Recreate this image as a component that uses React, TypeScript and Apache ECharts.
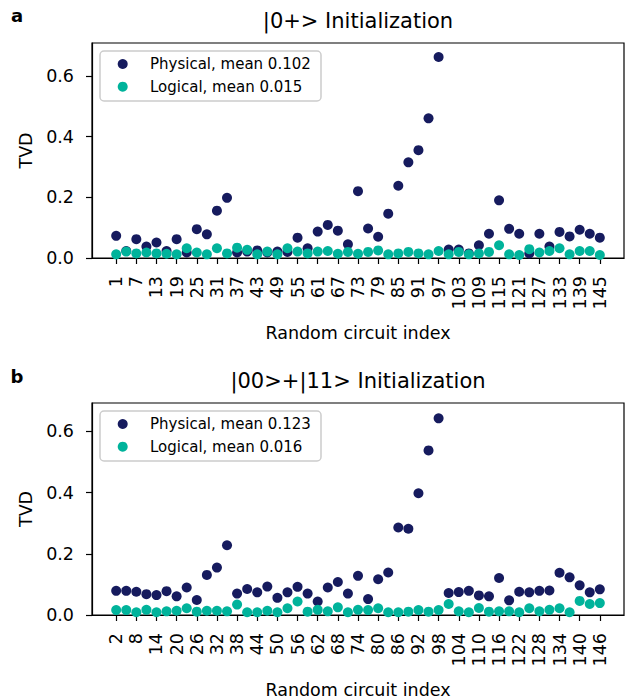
import React, { useEffect, useRef } from "react";
import * as echarts from "echarts";

const circuitsA = [1, 4, 7, 10, 13, 16, 19, 22, 25, 28, 31, 34, 37, 40, 43, 46, 49, 52, 55, 58, 61, 64, 67, 70, 73, 76, 79, 82, 85, 88, 91, 94, 97, 100, 103, 106, 109, 112, 115, 118, 121, 124, 127, 130, 133, 136, 139, 142, 145];
const physicalA = [0.073, 0.023, 0.062, 0.038, 0.051, 0.023, 0.062, 0.018, 0.095, 0.078, 0.156, 0.198, 0.018, 0.021, 0.025, 0.018, 0.021, 0.020, 0.067, 0.032, 0.087, 0.109, 0.090, 0.045, 0.220, 0.097, 0.070, 0.146, 0.238, 0.315, 0.355, 0.460, 0.662, 0.028, 0.028, 0.015, 0.042, 0.080, 0.190, 0.096, 0.080, 0.015, 0.080, 0.038, 0.086, 0.071, 0.093, 0.080, 0.067];
const logicalA = [0.012, 0.021, 0.015, 0.018, 0.015, 0.014, 0.012, 0.032, 0.018, 0.012, 0.032, 0.015, 0.034, 0.027, 0.012, 0.021, 0.012, 0.032, 0.021, 0.015, 0.021, 0.023, 0.014, 0.020, 0.014, 0.020, 0.025, 0.012, 0.015, 0.020, 0.015, 0.012, 0.023, 0.012, 0.020, 0.012, 0.015, 0.020, 0.042, 0.012, 0.010, 0.029, 0.018, 0.023, 0.032, 0.012, 0.023, 0.023, 0.010];
const ticksA = [1, 7, 13, 19, 25, 31, 37, 43, 49, 55, 61, 67, 73, 79, 85, 91, 97, 103, 109, 115, 121, 127, 133, 139, 145];

const circuitsB = [2, 5, 8, 11, 14, 17, 20, 23, 26, 29, 32, 35, 38, 41, 44, 47, 50, 53, 56, 59, 62, 65, 68, 71, 74, 77, 80, 83, 86, 89, 92, 95, 98, 101, 104, 107, 110, 113, 116, 119, 122, 125, 128, 131, 134, 137, 140, 143, 146];
const physicalB = [0.079, 0.079, 0.076, 0.068, 0.065, 0.078, 0.061, 0.090, 0.049, 0.131, 0.155, 0.228, 0.070, 0.085, 0.074, 0.093, 0.056, 0.074, 0.092, 0.070, 0.044, 0.090, 0.108, 0.070, 0.128, 0.052, 0.117, 0.139, 0.286, 0.282, 0.398, 0.538, 0.643, 0.072, 0.075, 0.079, 0.064, 0.061, 0.121, 0.048, 0.076, 0.074, 0.079, 0.080, 0.138, 0.123, 0.097, 0.074, 0.084];
const logicalB = [0.016, 0.016, 0.009, 0.017, 0.009, 0.012, 0.014, 0.022, 0.011, 0.014, 0.014, 0.012, 0.034, 0.009, 0.009, 0.014, 0.009, 0.022, 0.044, 0.011, 0.017, 0.012, 0.025, 0.009, 0.017, 0.016, 0.022, 0.009, 0.009, 0.011, 0.016, 0.011, 0.016, 0.036, 0.012, 0.009, 0.023, 0.011, 0.012, 0.012, 0.009, 0.022, 0.012, 0.017, 0.022, 0.009, 0.046, 0.036, 0.039];
const ticksB = [2, 8, 14, 20, 26, 32, 38, 44, 50, 56, 62, 68, 74, 80, 86, 92, 98, 104, 110, 116, 122, 128, 134, 140, 146];

const yTicks = [0, 0.2, 0.4, 0.6];

const titles = ["|0+> Initialization", "|00>+|11> Initialization"];
const panelLabels = ["a", "b"];
const namesA = ["Physical, mean 0.102", "Logical, mean 0.015"];
const namesB = ["Physical, mean 0.123", "Logical, mean 0.016"];

const PHYS = "#161b5e";
const LOGI = "#00b39b";
const FONT = "DejaVu Sans";

function pairs(xs: number[], ys: number[]) {
  return xs.map((x, i) => [x, ys[i]]);
}

function legendGraphic(top: number, names: string[]) {
  const left = 100;
  const rowY = [top + 13, top + 35.7];
  const colors = [PHYS, LOGI];
  return {
    type: "group",
    children: [
      {
        type: "rect",
        shape: { x: left, y: top, width: 221, height: 50, r: 4 },
        style: { fill: "rgba(255,255,255,0.8)", stroke: "#cccccc", lineWidth: 1.5 },
        z: 100,
      },
      ...names.flatMap((n, i) => [
        { type: "circle", shape: { cx: left + 22.7, cy: rowY[i], r: 5 }, style: { fill: colors[i] }, z: 101 },
        {
          type: "text",
          x: left + 50,
          y: rowY[i],
          style: { text: n, font: `15px '${FONT}'`, fill: "#000", textAlign: "left", textVerticalAlign: "middle" },
          z: 101,
        },
      ]),
    ],
  };
}

export default function App() {
  const ref = useRef<HTMLDivElement>(null);
  useEffect(() => {
    if (!ref.current) return;
    const chart = echarts.init(ref.current, null, { renderer: "svg" });
    const grids = [
      { left: 92, top: 43, width: 532, height: 215 },
      { left: 92, top: 403, width: 532, height: 213 },
    ];
    const mkX = (gi: number, ticks: number[], xs: number[]) => {
      const span = xs[xs.length - 1] - xs[0];
      return {
        type: "value",
        gridIndex: gi,
        min: xs[0] - span * 0.05,
        max: xs[xs.length - 1] + span * 0.05,
        name: "Random circuit index",
        nameLocation: "middle",
        nameGap: 66,
        nameTextStyle: { fontFamily: FONT, fontSize: 17.5, color: "#000" },
        axisLine: { show: true, onZero: false, lineStyle: { color: "#000", width: 1.2 } },
        axisTick: { show: true, length: 6, customValues: ticks, lineStyle: { color: "#000", width: 1.2 } },
        axisLabel: {
          customValues: ticks,
          rotate: 90,
          margin: 18,
          fontFamily: FONT,
          fontSize: 17.5,
          color: "#000",
          formatter: (v: number) => String(v),
        },
        splitLine: { show: false },
      };
    };
    const mkY = (gi: number, max: number) => ({
      type: "value",
      gridIndex: gi,
      min: 0,
      max,
      name: "TVD",
      nameLocation: "middle",
      nameGap: 56,
      nameTextStyle: { fontFamily: FONT, fontSize: 17.5, color: "#000" },
      axisLine: { show: true, onZero: false, lineStyle: { color: "#000", width: 1.2 } },
      axisTick: { show: true, length: 6, customValues: yTicks, lineStyle: { color: "#000", width: 1.2 } },
      axisLabel: {
        customValues: yTicks,
        margin: 18,
        fontFamily: FONT,
        fontSize: 17.5,
        color: "#000",
        formatter: (v: number) => v.toFixed(1),
      },
      splitLine: { show: false },
    });
    const scatter = (name: string, gi: number, data: number[][], color: string) => ({
      type: "scatter",
      name,
      xAxisIndex: gi,
      yAxisIndex: gi,
      data,
      symbol: "circle",
      symbolSize: 10,
      itemStyle: { color, opacity: 1 },
      emphasis: { disabled: true },
    });
    const option: any = {
      animation: false,
      backgroundColor: "#fff",
      grid: grids.map((g) => ({ ...g, show: true, borderColor: "#000", borderWidth: 1.2, backgroundColor: "transparent" })),
      xAxis: [mkX(0, ticksA, circuitsA), mkX(1, ticksB, circuitsB)],
      yAxis: [mkY(0, 0.708), mkY(1, 0.693)],
      series: [
        scatter(namesA[0], 0, pairs(circuitsA, physicalA), PHYS),
        scatter(namesA[1], 0, pairs(circuitsA, logicalA), LOGI),
        scatter(namesB[0], 1, pairs(circuitsB, physicalB), PHYS),
        scatter(namesB[1], 1, pairs(circuitsB, logicalB), LOGI),
      ],
      graphic: [
        { type: "text", x: 358, y: 21, style: { text: titles[0], font: `21px '${FONT}'`, fill: "#000", textAlign: "center", textVerticalAlign: "middle" } },
        { type: "text", x: 358, y: 381, style: { text: titles[1], font: `21px '${FONT}'`, fill: "#000", textAlign: "center", textVerticalAlign: "middle" } },
        { type: "text", x: 17, y: 15, style: { text: panelLabels[0], font: `bold 18px '${FONT}'`, fill: "#000", textAlign: "center", textVerticalAlign: "middle" } },
        { type: "text", x: 17, y: 376, style: { text: panelLabels[1], font: `bold 18px '${FONT}'`, fill: "#000", textAlign: "center", textVerticalAlign: "middle" } },
        legendGraphic(51, namesA),
        legendGraphic(411, namesB),
      ],
    };
    chart.setOption(option);
    return () => chart.dispose();
  }, []);
  return <div ref={ref} style={{ position: "absolute", left: 0, top: 0, width: 625, height: 700 }} />;
}
